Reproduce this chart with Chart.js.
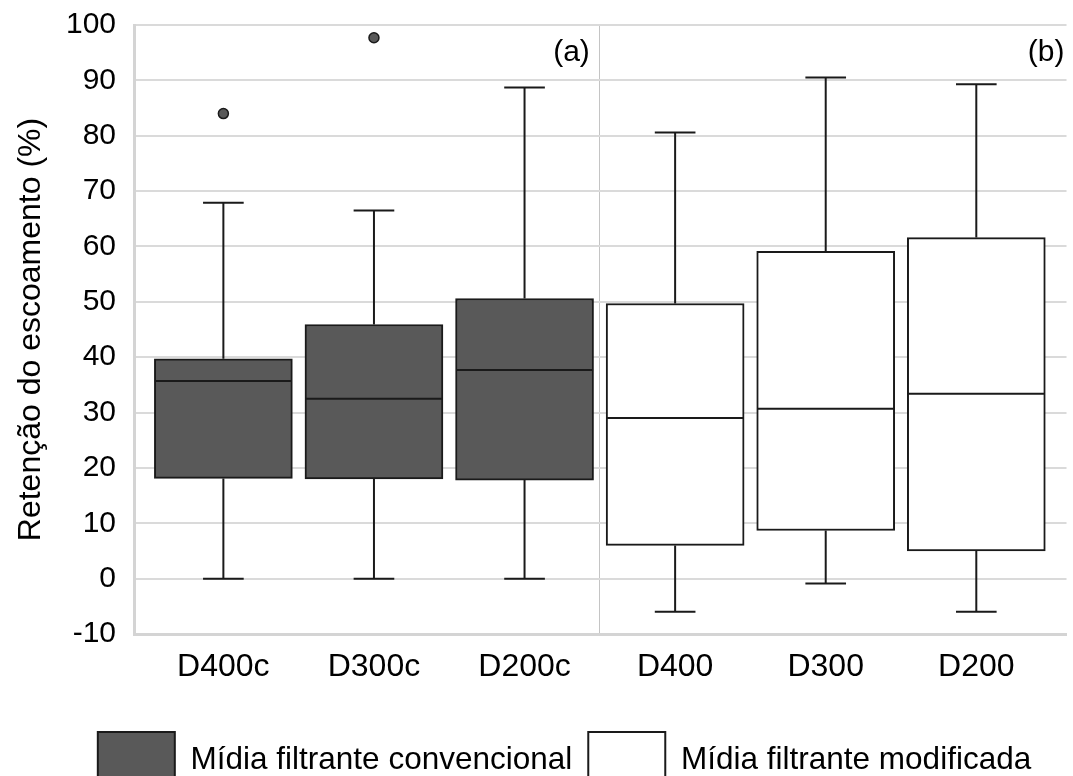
<!DOCTYPE html>
<html>
<head>
<meta charset="utf-8">
<script src="https://cdn.jsdelivr.net/npm/chart.js@4.4.0/dist/chart.umd.min.js"></script>
<style>
  html, body { margin: 0; padding: 0; background: #fff; overflow: hidden; }
  #wrap { width: 1073px; height: 798px; }
</style>
</head>
<body>
<div id="wrap"><canvas id="boxChart"></canvas></div>
<script>
// box plot data
const categories = ['D400c', 'D300c', 'D200c', 'D400', 'D300', 'D200'];
const whiskerLow = [0, 0, 0, -6.0, -0.9, -6.0];
const q1 = [18.1, 18.0, 17.8, 6.0, 8.7, 5.0];
const median = [35.7, 32.5, 37.7, 29.0, 30.7, 33.4];
const q3 = [39.7, 45.9, 50.6, 49.7, 59.1, 61.6];
const whiskerHigh = [67.9, 66.5, 88.7, 80.6, 90.5, 89.3];
const outlierCat = [0, 1];
const outlierVal = [84.0, 97.7];
const groupOf = [0, 0, 0, 1, 1, 1];
const groupNames = ['Mídia filtrante convencional', 'Mídia filtrante modificada'];
const panelNames = ['(a)', '(b)'];
const groupSplit = 2.5;

const CAP = 0.135;   // half width of whisker caps (category units)
const HALF = 0.455;  // half width of a box

Chart.defaults.font.family = '"Liberation Sans", Arial, sans-serif';
Chart.defaults.color = '#000';

function boxData(g) {
  const out = [];
  categories.forEach((c, i) => {
    if (groupOf[i] === g) out.push({ x: i, y: [q1[i], q3[i]] });
  });
  return out;
}

const whiskerPts = [];
const capPts = [];
const medianPts = [];
categories.forEach((c, i) => {
  whiskerPts.push({ x: i, y: whiskerLow[i] }, { x: i, y: q1[i] }, { x: i, y: null },
                  { x: i, y: q3[i] }, { x: i, y: whiskerHigh[i] }, { x: i, y: null });
  capPts.push({ x: i - CAP, y: whiskerLow[i] }, { x: i + CAP, y: whiskerLow[i] }, { x: i, y: null },
              { x: i - CAP, y: whiskerHigh[i] }, { x: i + CAP, y: whiskerHigh[i] }, { x: i, y: null });
  medianPts.push({ x: i - HALF, y: median[i] }, { x: i + HALF, y: median[i] }, { x: i, y: null });
});

const lineStyle = {
  type: 'line', borderColor: '#1a1a1a', borderWidth: 2,
  pointRadius: 0, spanGaps: false, tension: 0
};

const panelLabels = {
  id: 'panelLabels',
  afterDatasetsDraw(chart) {
    const { ctx, chartArea, scales } = chart;
    const y = scales.y.getPixelForValue(95.0);
    ctx.save();
    ctx.font = '30px "Liberation Sans", Arial, sans-serif';
    ctx.fillStyle = '#000';
    ctx.textAlign = 'right';
    ctx.textBaseline = 'middle';
    ctx.fillText(panelNames[0], scales.x.getPixelForValue(groupSplit) - 10, y);
    ctx.fillText(panelNames[1], chartArea.right - 2, y);
    ctx.restore();
  }
};

// nudge the centred legend a bit to the right, as in the figure
const legendShift = {
  id: 'legendShift',
  afterLayout(chart) {
    chart.legend.left += 28;
    chart.legend.right += 28;
  }
};

new Chart(document.getElementById('boxChart'), {
  type: 'bar',
  data: {
    datasets: [
      {
        label: groupNames[0], data: boxData(0),
        backgroundColor: '#595959', borderColor: '#1a1a1a', borderWidth: 2,
        borderSkipped: false, barThickness: 138, grouped: false, order: 4
      },
      {
        label: groupNames[1], data: boxData(1),
        backgroundColor: '#ffffff', borderColor: '#1a1a1a', borderWidth: 2,
        borderSkipped: false, barThickness: 138, grouped: false, order: 4
      },
      { ...lineStyle, label: 'whiskers', data: whiskerPts, order: 3 },
      { ...lineStyle, label: 'caps', data: capPts, order: 3 },
      { ...lineStyle, label: 'median', data: medianPts, order: 1 },
      {
        type: 'scatter', label: 'outliers',
        data: outlierCat.map((c, k) => ({ x: c, y: outlierVal[k] })),
        pointRadius: 5, backgroundColor: '#595959', borderColor: '#1a1a1a',
        borderWidth: 1.5, order: 0
      }
    ]
  },
  options: {
    responsive: true,
    maintainAspectRatio: false,
    animation: false,
    layout: { padding: { top: 15, left: 0, right: 0, bottom: 0 } },
    plugins: {
      tooltip: { enabled: false },
      legend: {
        position: 'bottom',
        labels: {
          filter: item => item.datasetIndex < 2,
          boxWidth: 77, boxHeight: 56, padding: 16,
          font: { size: 31.5 }, color: '#000'
        }
      }
    },
    scales: {
      x: {
        type: 'linear',
        offset: false,
        min: -0.5935, max: 5.599,
        afterBuildTicks: s => { s.ticks = [0, 1, 2, groupSplit, 3, 4, 5].map(v => ({ value: v })); },
        afterFit: s => { s.height = 82; },
        ticks: {
          autoSkip: false, maxRotation: 0, padding: 14,
          font: { size: 32 }, color: '#000',
          callback: v => Number.isInteger(v) ? categories[v] : ''
        },
        grid: {
          drawTicks: false, lineWidth: 1, offset: false,
          color: c => (c.tick && c.tick.value === groupSplit) ? '#c4c4c4' : 'rgba(0,0,0,0)'
        },
        border: { color: '#d4d4d4', width: 3 }
      },
      y: {
        min: -10, max: 100,
        afterFit: s => { s.width = 134; },
        ticks: { stepSize: 10, padding: 7, font: { size: 30 }, color: '#000' },
        grid: {
          drawTicks: true, tickLength: 11, tickColor: 'rgba(0,0,0,0)',
          color: '#dadada', lineWidth: 2
        },
        border: { color: '#d4d4d4', width: 3 },
        title: {
          display: true, text: 'Retenção do escoamento (%)',
          font: { size: 32 }, color: '#000', padding: { top: 12, bottom: 0 }
        }
      }
    }
  },
  plugins: [panelLabels, legendShift]
});
</script>
</body>
</html>
